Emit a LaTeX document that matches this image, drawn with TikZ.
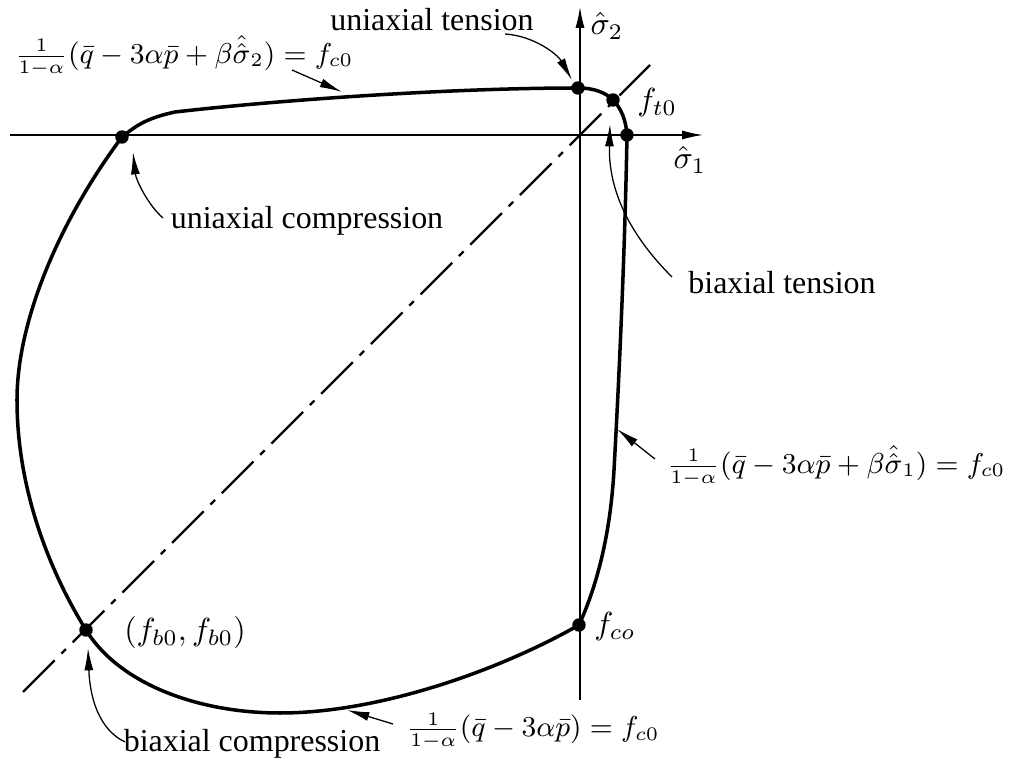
\documentclass[tikz,border=0pt]{standalone}
\usepackage[no-math]{fontspec}
\setmainfont{Liberation Serif}
\usetikzlibrary{arrows.meta}

\begin{document}
\begin{tikzpicture}[
  x=0.011cm, y=-0.011cm,
  axis/.style={-{Latex[length=6.5pt,width=2.8pt]}, line width=0.4pt},
  curve/.style={line width=1.1pt},
  diag/.style={line width=0.7pt, dash pattern=on 14pt off 3pt on 2pt off 3pt},
  dot/.style={circle, fill, inner sep=0pt, minimum size=4.2pt},
  eq/.style={font=\small},
  pointer/.style={-{Latex[length=7pt,width=2.8pt]}, line width=0.4pt}
]
\useasboundingbox (0,0) rectangle (1015,758);

% Axes
\coordinate (h0) at (10,135);
\coordinate (h1) at (703,135);
\coordinate (v0) at (580,700);
\coordinate (v1) at (580,7);
\draw[axis] (h0) -- (h1);
\draw[axis] (v0) -- (v1);
\node (s1) at (690,160) {$\hat\sigma_1$};
\node (s2) at (607,26) {$\hat\sigma_2$};

% Diagonale
\coordinate (d0) at (23,692);
\coordinate (d1) at (650,65);
\draw[diag] (d0) -- (d1);

% Points sur la surface
\node[dot] (uc) at (122,137) {};
\node[dot] (ut) at (578,88) {};
\node[dot] (ft) at (613,100) {};
\node[dot] (bt) at (627,135) {};
\node[dot] (fco) at (579,625) {};
\node[dot] (fb) at (86,630) {};

% Surface de charge
\draw[curve] (uc.center) .. controls (138,124) and (148,118) .. (175,112)
  .. controls (280,100) and (450,88) .. (ut.center)
  .. controls (595,88) and (606,93) .. (ft.center)
  .. controls (621,108) and (626,120) .. (bt.center)
  .. controls (625,250) and (619,380) .. (614,470)
  .. controls (610,540) and (595,590) .. (fco.center)
  .. controls (500,670) and (380,713) .. (280,713)
  .. controls (200,713) and (120,685) .. (fb.center)
  .. controls (50,572) and (17,490) .. (17,400)
  .. controls (17,320) and (60,220) .. (uc.center);

% Valeurs aux points
\node[anchor=west] (ftl) at (626,103) {$f_{t0}$};
\node[anchor=west] (fcol) at (583,627) {$f_{co}$};
\node[anchor=west] (fbl) at (113,633) {$(f_{b0},f_{b0})$};

% Etiquettes
\node (utn) at (432,20) {uniaxial tension};
\node (ucn) at (307,221) {uniaxial compression};
\node (btn) at (782,283) {biaxial tension};
\node (bcn) at (252,744) {biaxial compression};
\node[eq] (eqtop) at (184,56)
  {$\frac{1}{1-\alpha}(\bar q-3\alpha\bar p+\beta\hat{\hat\sigma}_2)=f_{c0}$};
\node[eq] (eqright) at (836,466)
  {$\frac{1}{1-\alpha}(\bar q-3\alpha\bar p+\beta\hat{\hat\sigma}_1)=f_{c0}$};
\node[eq] (eqbot) at (533,731)
  {$\frac{1}{1-\alpha}(\bar q-3\alpha\bar p)=f_{c0}$};

% Fleches
\coordinate (utA) at (505,34);  \coordinate (utB) at (572,80);
\coordinate (ucA) at (163,218); \coordinate (ucB) at (133,152);
\coordinate (btA) at (672,277); \coordinate (btB) at (610,124);
\coordinate (bcA) at (125,742); \coordinate (bcB) at (88,648);
\coordinate (etA) at (292,70);  \coordinate (etB) at (342,92);
\coordinate (erA) at (655,459); \coordinate (erB) at (617,429);
\coordinate (ebA) at (393,724); \coordinate (ebB) at (347,710);

\draw[pointer] (utA) .. controls (535,36) and (558,55) .. (utB);
\draw[pointer] (ucA) .. controls (148,205) and (136,180) .. (ucB);
\draw[pointer] (btA) .. controls (640,245) and (608,200) .. (btB);
\draw[pointer] (bcA) .. controls (100,730) and (90,700) .. (bcB);
\draw[pointer] (etA) -- (etB);
\draw[pointer] (erA) -- (erB);
\draw[pointer] (ebA) -- (ebB);

\end{tikzpicture}
\end{document}
